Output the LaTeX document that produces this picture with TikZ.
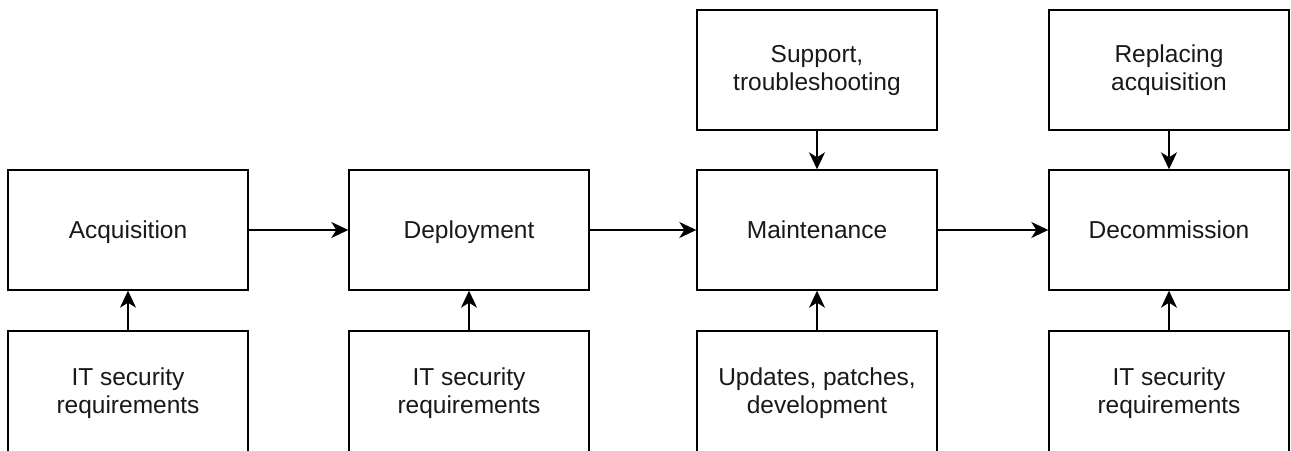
\documentclass[tikz,border=0pt]{standalone}
\usepackage{fontspec}
\setmainfont{Liberation Sans}
\usetikzlibrary{arrows.meta}
\begin{document}
\begin{tikzpicture}[x=1pt,y=-1pt,
  stagebox/.style={draw=black,line width=1.4pt,minimum width=240pt,minimum height=120pt,
    align=center,inner sep=2pt,font=\fontsize{24.5}{28}\selectfont,text=black!90},
  oneline/.style={stagebox,text height=19pt,text depth=3pt},
  lowbox/.style={stagebox,minimum height=124pt},
  conn/.style={line width=1.4pt,-{Stealth[length=17pt,width=16pt,inset=5pt]}}]
\useasboundingbox (0,0) rectangle (1291,450);
\fill[white] (0,0) rectangle (1291,450);
\node[oneline] (acq) at (128,230) {Acquisition};
\node[oneline] (dep) at (469,230) {Deployment};
\node[oneline] (mai) at (817,230) {Maintenance};
\node[oneline] (dec) at (1169,230) {Decommission};
\node[stagebox] (sup) at (817,70) {Support,\\troubleshooting};
\node[stagebox] (rep) at (1169,70) {Replacing\\acquisition};
\node[lowbox] (r1) at (128,393) {IT security\\requirements};
\node[lowbox] (r2) at (469,393) {IT security\\requirements};
\node[lowbox] (upd) at (817,393) {Updates, patches,\\development};
\node[lowbox] (r4) at (1169,393) {IT security\\requirements};
\draw[conn] (acq) -- (dep);
\draw[conn] (dep) -- (mai);
\draw[conn] (mai) -- (dec);
\draw[conn] (sup) -- (mai);
\draw[conn] (rep) -- (dec);
\draw[conn] (r1) -- (acq);
\draw[conn] (r2) -- (dep);
\draw[conn] (upd) -- (mai);
\draw[conn] (r4) -- (dec);
\end{tikzpicture}
\end{document}
